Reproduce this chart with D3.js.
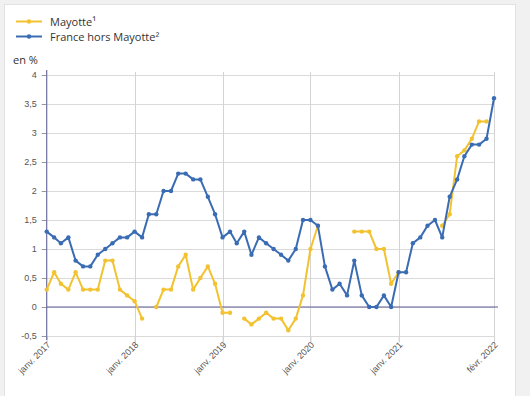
<!DOCTYPE html>
<html>
<head>
<meta charset="utf-8">
<script src="https://cdn.jsdelivr.net/npm/d3@7"></script>
<style>
  body { margin: 0; background: #f1f1f1; }
  svg { display: block; font-family: "Open Sans", sans-serif; }
</style>
</head>
<body>
<svg id="chart"></svg>
<script>
// valeurs, glissement annuel en %
const seriesNames = ["Mayotte¹", "France hors Mayotte²"];
const seriesColors = ["#f2c230", "#3a6cb4"];

const mayotte = [
  0.3, 0.6, 0.4, 0.3, 0.6, 0.3, 0.3, 0.3, 0.8, 0.8, 0.3, 0.2,
  0.1, -0.2, null, 0.0, 0.3, 0.3, 0.7, 0.9, 0.3, 0.5, 0.7, 0.4,
  -0.1, -0.1, null, -0.2, -0.3, -0.2, -0.1, -0.2, -0.2, -0.4, -0.2, 0.2,
  1.0, 1.4, null, null, null, null, 1.3, 1.3, 1.3, 1.0, 1.0, 0.4,
  0.6, null, null, null, null, null, 1.4, 1.6, 2.6, 2.7, 2.9, 3.2,
  3.2, null
];

const franceHorsMayotte = [
  1.3, 1.2, 1.1, 1.2, 0.8, 0.7, 0.7, 0.9, 1.0, 1.1, 1.2, 1.2,
  1.3, 1.2, 1.6, 1.6, 2.0, 2.0, 2.3, 2.3, 2.2, 2.2, 1.9, 1.6,
  1.2, 1.3, 1.1, 1.3, 0.9, 1.2, 1.1, 1.0, 0.9, 0.8, 1.0, 1.5,
  1.5, 1.4, 0.7, 0.3, 0.4, 0.2, 0.8, 0.2, 0.0, 0.0, 0.2, 0.0,
  0.6, 0.6, 1.1, 1.2, 1.4, 1.5, 1.2, 1.9, 2.2, 2.6, 2.8, 2.8,
  2.9, 3.6
];

const yTicks = [-0.5, 0, 0.5, 1, 1.5, 2, 2.5, 3, 3.5, 4];
const xTickDates = [new Date(2017, 0, 1), new Date(2018, 0, 1), new Date(2019, 0, 1),
                    new Date(2020, 0, 1), new Date(2021, 0, 1), new Date(2022, 1, 1)];
const xTickLabels = ["janv. 2017", "janv. 2018", "janv. 2019", "janv. 2020", "janv. 2021", "févr. 2022"];

const months = d3.timeMonth.range(new Date(2017, 0, 1), new Date(2022, 2, 1));

const W = 530, H = 396;
const svg = d3.select("#chart").attr("width", W).attr("height", H);

// carte blanche
svg.append("rect")
  .attr("x", 4.5).attr("y", 4.5)
  .attr("width", 511).attr("height", 420)
  .attr("fill", "#fff")
  .attr("stroke", "#e2e2e2");

const x = d3.scaleTime([months[0], months[months.length - 1]], [46.7, 494]);
const y = d3.scaleLinear([-0.5, 4], [336, 75]);

// grille horizontale
svg.append("g")
  .selectAll("line")
  .data(yTicks)
  .join("line")
  .attr("x1", x.range()[0]).attr("x2", 495)
  .attr("y1", d => Math.round(y(d)) + 0.5).attr("y2", d => Math.round(y(d)) + 0.5)
  .attr("stroke", "#dadada");

// grille verticale
svg.append("g")
  .selectAll("line")
  .data(xTickDates.slice(1))
  .join("line")
  .attr("x1", d => Math.round(x(d)) + 0.5).attr("x2", d => Math.round(x(d)) + 0.5)
  .attr("y1", 72).attr("y2", 342)
  .attr("stroke", "#d4d4d4");

// axe X
const xAxis = svg.append("g")
  .attr("transform", `translate(0, ${Math.round(y(-0.5)) + 0.5})`)
  .call(d3.axisBottom(x).tickValues(xTickDates).tickSize(6)
    .tickFormat((d, i) => xTickLabels[i]));
xAxis.select(".domain").remove();
xAxis.selectAll(".tick line").attr("stroke", "#d4d4d4");
xAxis.selectAll(".tick text")
  .attr("fill", "#555")
  .attr("font-size", 9)
  .attr("text-anchor", "end")
  .attr("transform", "translate(2, 7) rotate(-45)")
  .attr("dy", "0.3em")
  .attr("y", 0);

// axe Y
const yAxis = svg.append("g")
  .attr("transform", `translate(${x.range()[0]}, 0)`)
  .call(d3.axisLeft(y).tickValues(yTicks).tickSize(5).tickPadding(5)
    .tickFormat(d => String(d).replace(".", ",")));
yAxis.select(".domain").remove();
yAxis.selectAll(".tick line").attr("stroke", "#999");
yAxis.selectAll(".tick text").attr("fill", "#555").attr("font-size", 9);

svg.append("line")
  .attr("x1", x.range()[0]).attr("x2", x.range()[0])
  .attr("y1", 70).attr("y2", 340)
  .attr("stroke", "#6e6ea0").attr("stroke-width", 1.2);

// ligne du zéro
svg.append("line")
  .attr("x1", x.range()[0]).attr("x2", 498)
  .attr("y1", y(0)).attr("y2", y(0))
  .attr("stroke", "#5c5c96").attr("stroke-width", 1.2);

svg.append("text")
  .attr("x", 13).attr("y", 64)
  .attr("font-size", 11).attr("fill", "#333")
  .text("en %");

// courbes
const allSeries = [mayotte, franceHorsMayotte];
allSeries.forEach((values, i) => {
  const pts = values.map((v, j) => ({ date: months[j], v }));
  const line = d3.line()
    .defined(d => d.v !== null)
    .x(d => x(d.date))
    .y(d => y(d.v));

  svg.append("path")
    .datum(pts)
    .attr("d", line)
    .attr("fill", "none")
    .attr("stroke", seriesColors[i])
    .attr("stroke-width", 2)
    .attr("stroke-linejoin", "round");

  svg.append("g")
    .selectAll("circle")
    .data(pts.filter(d => d.v !== null))
    .join("circle")
    .attr("cx", d => x(d.date))
    .attr("cy", d => y(d.v))
    .attr("r", 2.2)
    .attr("fill", seriesColors[i]);
});

// légende
const legend = svg.append("g");
seriesNames.forEach((name, i) => {
  const ly = 21.5 + i * 15;
  legend.append("line")
    .attr("x1", 16).attr("x2", 42)
    .attr("y1", ly).attr("y2", ly)
    .attr("stroke", seriesColors[i]).attr("stroke-width", 2);
  legend.append("circle")
    .attr("cx", 29).attr("cy", ly).attr("r", 2.2)
    .attr("fill", seriesColors[i]);
  legend.append("text")
    .attr("x", 50).attr("y", ly + 4)
    .attr("font-size", 11).attr("fill", "#333")
    .text(name);
});
</script>
</body>
</html>
